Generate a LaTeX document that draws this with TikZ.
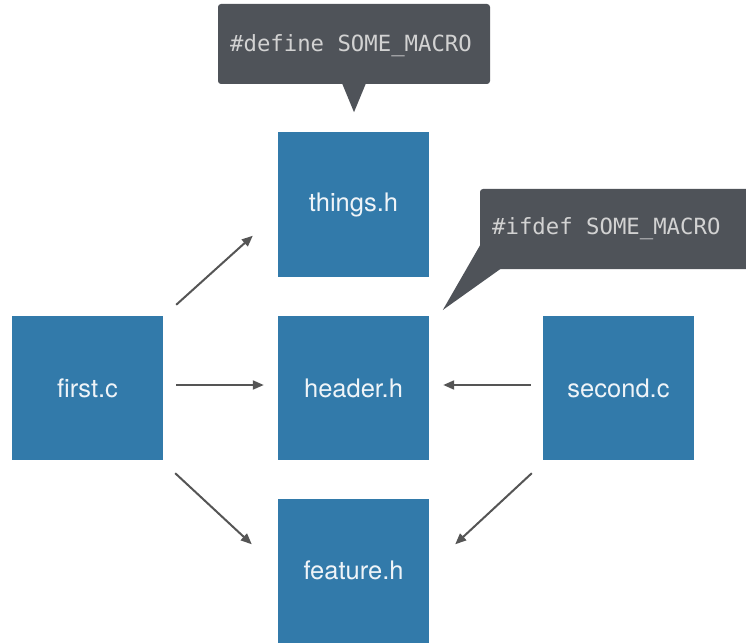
\documentclass[tikz,border=0pt]{standalone}
\usepackage{fontspec}
\setmainfont{TeX Gyre Heros}
\newfontfamily\codefont{DejaVu Sans Mono}
\usetikzlibrary{arrows.meta}
\definecolor{fileblue}{RGB}{50,122,170}
\definecolor{notegray}{RGB}{79,83,89}
\definecolor{notetext}{RGB}{210,210,210}
\definecolor{arrowgray}{RGB}{85,85,85}
\tikzset{
  filebox/.style={fill=fileblue, inner sep=0pt, minimum width=151pt, minimum height=144pt,
    text=white!92!fileblue, font=\fontsize{25.5}{30}\selectfont},
  note/.style={fill=notegray, rounded corners=3pt, inner sep=0pt, minimum height=80pt,
    text=notetext, font=\codefont\fontsize{22.3}{26}\selectfont},
  dep/.style={draw=arrowgray, line width=2pt, -{Triangle[length=11pt,width=9pt]}},
}
\begin{document}
\begin{tikzpicture}[x=1pt, y=-1pt]
  \useasboundingbox (0,0) rectangle (746,644);

  % source and header files
  \node[filebox] (things)  at (353.5,204.5) {things.h};
  \node[filebox] (header)  at (353.5,388)   {header.h};
  \node[filebox] (first)   at (87.5,388)    {first.c};
  \node[filebox] (second)  at (618.5,388)   {second.c};
  \node[filebox] (feature) at (353.5,570.5) {feature.h};

  % include relations
  \draw[dep] ([shift={(13,-11)}]first.north east) -- ([shift={(-25,-41)}]things.south west);
  \draw[dep, shorten <=13pt, shorten >=14pt] ([yshift=3pt]first.east) -- ([yshift=3pt]header.west);
  \draw[dep] ([shift={(12,13)}]first.south east) -- ([shift={(-26,46)}]feature.north west);
  \draw[dep, shorten <=12pt, shorten >=14pt] ([yshift=3pt]second.west) -- ([yshift=3pt]header.east);
  \draw[dep] ([shift={(-11,13)}]second.south west) -- ([shift={(26,46)}]feature.north east);

  % callout above things.h
  \node[note, minimum width=272pt] (define) at (354,44) {};
  \node[note, fill=none, anchor=center] (definetext) at (351,46) {\#define SOME\_MACRO};
  \fill[notegray] ([shift={(-12,-1)}]define.south) -- ([shift={(12,-1)}]define.south)
    -- ([shift={(0,28)}]define.south) -- cycle;

  % callout beside header.h
  \node[note, minimum width=290pt] (ifdef) at (625,229) {};
  \node[note, fill=none, anchor=west] (ifdeftext) at (492,229) {\#ifdef SOME\_MACRO};
  \fill[notegray] ([shift={(1,15)}]ifdef.west) -- ([shift={(-37,81)}]ifdef.west)
    -- ([shift={(22,39)}]ifdef.west) -- ([shift={(22,38)}]ifdef.west) -- ([shift={(1,38)}]ifdef.west) -- cycle;
\end{tikzpicture}
\end{document}
